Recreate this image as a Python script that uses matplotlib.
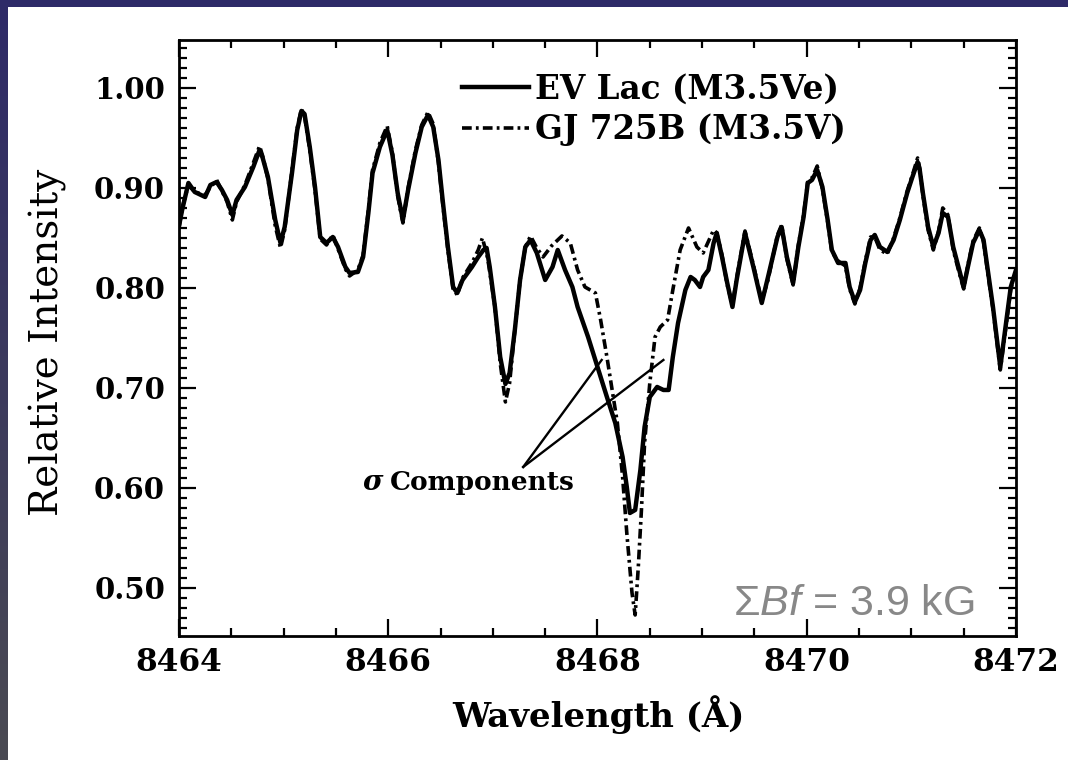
import numpy as np
import matplotlib
matplotlib.use("Agg")
import matplotlib.pyplot as plt
from matplotlib.ticker import MultipleLocator, FormatStrFormatter
from matplotlib.patches import Rectangle

plt.rcParams['mathtext.fontset'] = 'custom'
plt.rcParams['mathtext.rm'] = 'Liberation Sans'
plt.rcParams['mathtext.it'] = 'Liberation Sans:italic'
plt.rcParams['lines.scale_dashes'] = False

# EV Lac (M3.5Ve), solid line
wl_ev = [8464.00, 8464.03, 8464.09, 8464.15, 8464.25, 8464.30, 8464.36, 8464.41, 8464.46, 8464.51,
         8464.55, 8464.63, 8464.71, 8464.77, 8464.80, 8464.85, 8464.92, 8464.97, 8465.01, 8465.08,
         8465.13, 8465.17, 8465.20, 8465.25, 8465.30, 8465.35, 8465.41, 8465.47, 8465.52, 8465.59,
         8465.63, 8465.71, 8465.76, 8465.81, 8465.85, 8465.92, 8465.99, 8466.04, 8466.09, 8466.14,
         8466.19, 8466.26, 8466.32, 8466.38, 8466.43, 8466.48, 8466.52, 8466.57, 8466.62, 8466.66,
         8466.71, 8466.80, 8466.86, 8466.91, 8466.94, 8466.97, 8467.02, 8467.07, 8467.12, 8467.16,
         8467.21, 8467.26, 8467.31, 8467.36, 8467.42, 8467.50, 8467.57, 8467.62, 8467.69, 8467.76,
         8467.81, 8467.91, 8468.00, 8468.09, 8468.17, 8468.24, 8468.28, 8468.31, 8468.36, 8468.41,
         8468.45, 8468.50, 8468.57, 8468.63, 8468.68, 8468.72, 8468.77, 8468.84, 8468.89, 8468.93,
         8468.98, 8469.01, 8469.06, 8469.11, 8469.14, 8469.19, 8469.24, 8469.29, 8469.33, 8469.41,
         8469.49, 8469.57, 8469.63, 8469.72, 8469.76, 8469.81, 8469.87, 8469.92, 8469.97, 8470.01,
         8470.05, 8470.10, 8470.15, 8470.20, 8470.24, 8470.30, 8470.37, 8470.41, 8470.46, 8470.51,
         8470.56, 8470.61, 8470.65, 8470.70, 8470.77, 8470.83, 8470.89, 8470.96, 8471.01, 8471.06,
         8471.08, 8471.11, 8471.16, 8471.21, 8471.26, 8471.30, 8471.35, 8471.40, 8471.45, 8471.50,
         8471.54, 8471.59, 8471.65, 8471.69, 8471.73, 8471.78, 8471.83, 8471.85, 8471.90, 8471.95,
         8472.00]
flux_ev = [0.862, 0.878, 0.905, 0.896, 0.891, 0.903, 0.906, 0.898, 0.888, 0.873,
           0.888, 0.901, 0.921, 0.938, 0.930, 0.911, 0.868, 0.845, 0.861, 0.915,
           0.958, 0.977, 0.974, 0.941, 0.901, 0.851, 0.845, 0.851, 0.841, 0.821,
           0.815, 0.816, 0.831, 0.875, 0.915, 0.941, 0.958, 0.933, 0.895, 0.868,
           0.898, 0.935, 0.961, 0.973, 0.961, 0.928, 0.888, 0.841, 0.801, 0.795,
           0.808, 0.821, 0.831, 0.838, 0.840, 0.821, 0.781, 0.731, 0.704, 0.715,
           0.758, 0.808, 0.841, 0.848, 0.835, 0.808, 0.821, 0.838, 0.818, 0.801,
           0.781, 0.751, 0.721, 0.691, 0.665, 0.631, 0.601, 0.575, 0.578, 0.618,
           0.661, 0.691, 0.701, 0.698, 0.698, 0.731, 0.765, 0.798, 0.811, 0.808,
           0.801, 0.811, 0.818, 0.845, 0.855, 0.831, 0.805, 0.781, 0.808, 0.855,
           0.821, 0.785, 0.811, 0.851, 0.861, 0.831, 0.805, 0.841, 0.871, 0.905,
           0.908, 0.918, 0.901, 0.868, 0.838, 0.825, 0.825, 0.801, 0.786, 0.798,
           0.825, 0.848, 0.853, 0.841, 0.836, 0.848, 0.868, 0.895, 0.911, 0.926,
           0.918, 0.895, 0.861, 0.841, 0.855, 0.875, 0.871, 0.841, 0.821, 0.801,
           0.821, 0.845, 0.858, 0.848, 0.818, 0.781, 0.738, 0.721, 0.761, 0.801,
           0.818]

# GJ 725B (M3.5V), dash-dot line
wl_gj = [8464.00, 8464.03, 8464.09, 8464.15, 8464.25, 8464.30, 8464.36, 8464.41, 8464.46, 8464.51,
         8464.55, 8464.63, 8464.71, 8464.77, 8464.80, 8464.85, 8464.92, 8464.97, 8465.01, 8465.08,
         8465.13, 8465.17, 8465.20, 8465.25, 8465.30, 8465.35, 8465.41, 8465.47, 8465.52, 8465.59,
         8465.63, 8465.71, 8465.76, 8465.81, 8465.85, 8465.92, 8465.99, 8466.04, 8466.09, 8466.14,
         8466.19, 8466.26, 8466.32, 8466.38, 8466.43, 8466.48, 8466.52, 8466.57, 8466.62, 8466.66,
         8466.71, 8466.80, 8466.86, 8466.90, 8466.95, 8467.02, 8467.07, 8467.12, 8467.16, 8467.21,
         8467.26, 8467.31, 8467.36, 8467.42, 8467.48, 8467.56, 8467.66, 8467.74, 8467.81, 8467.88,
         8467.98, 8468.03, 8468.09, 8468.14, 8468.19, 8468.24, 8468.28, 8468.33, 8468.36, 8468.39,
         8468.42, 8468.45, 8468.50, 8468.55, 8468.60, 8468.67, 8468.72, 8468.79, 8468.87, 8468.95,
         8469.01, 8469.11, 8469.14, 8469.19, 8469.24, 8469.29, 8469.33, 8469.41,
         8469.49, 8469.57, 8469.63, 8469.72, 8469.76, 8469.81, 8469.87, 8469.92, 8469.97, 8470.01,
         8470.05, 8470.10, 8470.15, 8470.20, 8470.24, 8470.30, 8470.37, 8470.41, 8470.46, 8470.51,
         8470.56, 8470.61, 8470.65, 8470.70, 8470.77, 8470.83, 8470.89, 8470.96, 8471.01, 8471.06,
         8471.08, 8471.11, 8471.16, 8471.21, 8471.26, 8471.30, 8471.35, 8471.40, 8471.45, 8471.50,
         8471.54, 8471.59, 8471.65, 8471.69, 8471.73, 8471.78, 8471.83, 8471.85, 8471.90, 8471.95,
         8472.00]
flux_gj = [0.860, 0.880, 0.903, 0.896, 0.893, 0.901, 0.908, 0.897, 0.886, 0.868,
           0.886, 0.903, 0.925, 0.942, 0.932, 0.909, 0.862, 0.840, 0.858, 0.918,
           0.960, 0.979, 0.972, 0.938, 0.898, 0.849, 0.843, 0.853, 0.839, 0.819,
           0.812, 0.818, 0.833, 0.878, 0.918, 0.945, 0.962, 0.935, 0.892, 0.865,
           0.900, 0.938, 0.963, 0.976, 0.964, 0.925, 0.885, 0.838, 0.799, 0.793,
           0.810, 0.825, 0.838, 0.850, 0.830, 0.781, 0.725, 0.686, 0.705, 0.758,
           0.808, 0.841, 0.852, 0.840, 0.831, 0.842, 0.852, 0.845, 0.818, 0.801,
           0.795, 0.768, 0.731, 0.698, 0.665, 0.611, 0.555, 0.495, 0.473, 0.521,
           0.578, 0.645, 0.705, 0.751, 0.761, 0.768, 0.798, 0.838, 0.860, 0.841,
           0.835, 0.858, 0.855, 0.833, 0.803, 0.783, 0.810, 0.857,
           0.823, 0.787, 0.808, 0.853, 0.863, 0.829, 0.803, 0.843, 0.873, 0.907,
           0.910, 0.922, 0.899, 0.866, 0.836, 0.827, 0.822, 0.799, 0.784, 0.800,
           0.827, 0.851, 0.851, 0.838, 0.834, 0.850, 0.870, 0.897, 0.913, 0.930,
           0.920, 0.893, 0.858, 0.838, 0.857, 0.880, 0.873, 0.838, 0.818, 0.799,
           0.823, 0.847, 0.860, 0.846, 0.815, 0.779, 0.735, 0.718, 0.758, 0.799,
           0.816]

labels = ['EV Lac (M3.5Ve)', 'GJ 725B (M3.5V)']

# sigma-component pointer lines: (start x, start y) -> ends
sigma_start = (8467.29, 0.621)
sigma_ends_x = [8468.04, 8468.63]
sigma_ends_y = [0.728, 0.728]

fig = plt.figure(figsize=(10.68, 7.6), dpi=100)
fig.patch.set_facecolor('white')

# slide frame: dark band on top, gradient band on the left
bg = fig.add_axes([0, 0, 1, 1], zorder=-5)
bg.set_xlim(0, 1068)
bg.set_ylim(760, 0)
bg.axis('off')
grad = np.linspace(0, 1, 256).reshape(-1, 1)
cmap = matplotlib.colors.LinearSegmentedColormap.from_list('frame', ['#2e2a68', '#4a4a52'])
bg.imshow(grad, cmap=cmap, extent=[0, 8, 760, 0], aspect='auto')
bg.add_patch(Rectangle((0, 0), 1068, 7, color='#2e2a68', lw=0))

ax = fig.add_axes([0.1676, 0.1632, 0.7837, 0.7842])
ax.plot(wl_ev, flux_ev, color='black', lw=3.2, label=labels[0])
ax.plot(wl_gj, flux_gj, color='black', lw=2.6, linestyle=(0, (7, 3, 2, 3)), label=labels[1])

for ex, ey in zip(sigma_ends_x, sigma_ends_y):
    ax.plot([sigma_start[0], ex], [sigma_start[1], ey], color='black', lw=1.7)

ax.set_xlim(8464, 8472)
ax.set_ylim(0.452, 1.048)

ax.xaxis.set_major_locator(MultipleLocator(2))
ax.xaxis.set_minor_locator(MultipleLocator(0.5))
ax.yaxis.set_major_locator(MultipleLocator(0.1))
ax.yaxis.set_minor_locator(MultipleLocator(0.01))
ax.yaxis.set_major_formatter(FormatStrFormatter('%.2f'))
ax.xaxis.set_major_formatter(FormatStrFormatter('%d'))

ax.tick_params(which='both', direction='in', top=True, right=True, width=1.6)
ax.tick_params(which='major', length=12)
ax.tick_params(which='minor', length=6)
ax.tick_params(axis='y', pad=10)
ax.tick_params(axis='x', pad=8)
for lab in ax.get_xticklabels():
    lab.set_fontfamily('DejaVu Serif')
    lab.set_fontweight('bold')
    lab.set_fontsize(22.5)
for lab in ax.get_yticklabels():
    lab.set_fontfamily('DejaVu Serif')
    lab.set_fontweight('bold')
    lab.set_fontsize(21)
for sp in ax.spines.values():
    sp.set_linewidth(2)

ax.legend(loc='upper left', bbox_to_anchor=(0.338, 0.945), frameon=False,
          handlelength=2.05, handletextpad=0.2, labelspacing=0.22,
          borderpad=0, borderaxespad=0,
          prop={'family': 'DejaVu Serif', 'weight': 'bold', 'size': 23.5})

ax.text(8465.95, 0.605, 'σ', fontfamily='DejaVu Serif', fontstyle='italic', fontweight='bold',
        fontsize=20, ha='right', va='center')
ax.text(8466.02, 0.605, 'Components', fontfamily='DejaVu Serif', fontweight='bold',
        fontsize=19, ha='left', va='center')

ax.text(8471.61, 0.473, r'$\Sigma\mathit{Bf}$ = 3.9 kG', color='#888888',
        fontsize=31, ha='right', va='baseline', fontfamily='Liberation Sans')

fig.text(598 / 1068, 1 - 715 / 760, 'Wavelength (Å)', fontfamily='DejaVu Serif',
         fontweight='bold', fontsize=24.5, ha='center', va='center')
fig.text(48 / 1068, 1 - 342 / 760, 'Relative Intensity', fontfamily='DejaVu Serif',
         fontsize=28, rotation=90, ha='center', va='center')

fig.savefig('out.png', dpi=100)
